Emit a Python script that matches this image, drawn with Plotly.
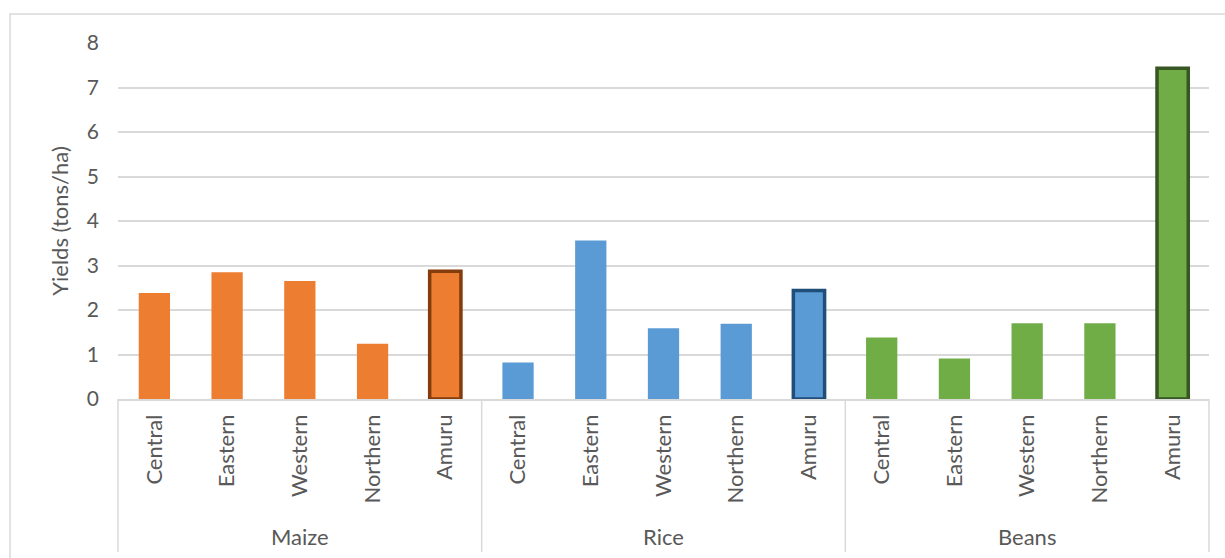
import plotly.graph_objects as go

# Yield data per crop and region
crops = ["Maize", "Rice", "Beans"]
regions = ["Central", "Eastern", "Western", "Northern", "Amuru"]
maize = [2.38, 2.85, 2.65, 1.24, 2.87]
rice = [0.82, 3.56, 1.59, 1.69, 2.44]
beans = [1.38, 0.91, 1.70, 1.70, 7.43]

series = [maize, rice, beans]
fills = ["#ED7D31", "#5B9BD5", "#70AD47"]
edges = ["#843C0C", "#1F4E79", "#375623"]

FONT = "Lato"
TEXT = "#595959"
GRID = "#d9d9d9"
FS = 22

n = len(regions)
total = n * len(crops)

fig = go.Figure()
tickvals, ticktext = [], []
for gi, (name, vals) in enumerate(zip(crops, series)):
    xs = [gi * n + i for i in range(n)]
    tickvals += xs
    ticktext += regions
    highlight = [r == "Amuru" for r in regions]
    fig.add_trace(go.Bar(
        x=xs, y=vals, name=name, width=0.43,
        marker=dict(
            color=fills[gi],
            line=dict(width=[3.5 if h else 0 for h in highlight],
                      color=[edges[gi] if h else fills[gi] for h in highlight]),
        ),
        showlegend=False,
    ))

x_lo, x_hi = -0.5, total - 0.5

def to_paper(x):
    return (x - x_lo) / (x_hi - x_lo)

shapes = []
# frame below the category axis: outer edges and dividers between crop groups
for gi in range(len(crops) + 1):
    xp = to_paper(gi * n - 0.5)
    shapes.append(dict(type="line", xref="paper", yref="paper",
                       x0=xp, x1=xp, y0=0, y1=-0.43,
                       line=dict(color=GRID, width=1.5)))
# outer chart border
shapes.append(dict(type="rect", xref="paper", yref="paper",
                   x0=-0.099, x1=1.2, y0=1.0815, y1=-0.7,
                   line=dict(color=GRID, width=1.5), layer="below"))

annotations = []
for gi, name in enumerate(crops):
    annotations.append(dict(
        x=to_paper(gi * n + (n - 1) / 2), xref="paper",
        y=-0.3876, yref="paper", text=name, showarrow=False,
        xanchor="center", yanchor="middle",
        font=dict(family=FONT, size=FS, color=TEXT),
    ))

fig.update_layout(
    width=1225, height=558,
    margin=dict(l=118, r=16, t=43, b=159),
    paper_bgcolor="white", plot_bgcolor="white",
    barmode="overlay",
    shapes=shapes,
    annotations=annotations,
    font=dict(family=FONT, size=FS, color=TEXT),
)
fig.update_xaxes(
    range=[x_lo, x_hi], tickmode="array", tickvals=tickvals, ticktext=ticktext,
    tickangle=-90, showgrid=False, zeroline=False,
    showline=True, linecolor=GRID, linewidth=1.5,
    ticks="", ticklabelstandoff=5,
    tickfont=dict(family=FONT, size=FS, color=TEXT),
)
fig.update_yaxes(
    range=[0, 8], dtick=1, showgrid=True, gridcolor=GRID, gridwidth=1.5,
    zeroline=False, showline=False, ticks="", ticklabelstandoff=18,
    tickfont=dict(family=FONT, size=21, color=TEXT),
    title=dict(text="Yields (tons/ha)", standoff=12,
               font=dict(family=FONT, size=FS, color=TEXT)),
    automargin=False,
)

fig.write_html("out.html")
